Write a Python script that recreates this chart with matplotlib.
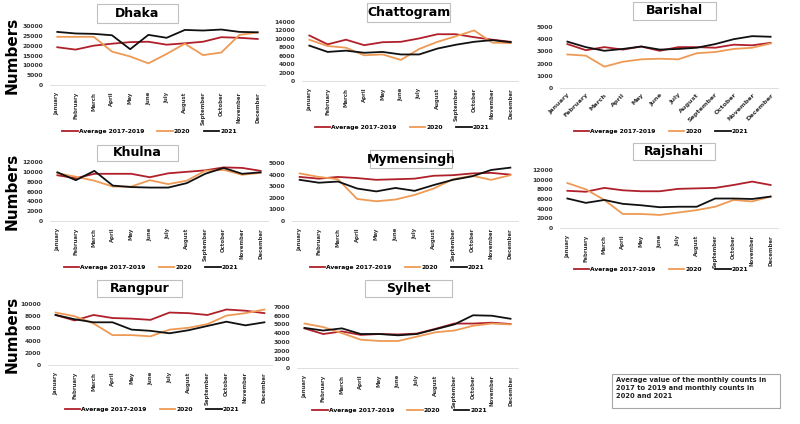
import matplotlib.pyplot as plt
from matplotlib.patches import Rectangle
from matplotlib.lines import Line2D

months = ["January", "February", "March", "April", "May", "June", "July",
          "August", "September", "October", "November", "December"]

dhaka_avg = [19200, 18000, 20000, 21000, 21800, 22000, 20500, 21200, 22000, 24300, 24000, 23400]
dhaka_2020 = [24500, 24500, 24500, 17000, 14500, 11000, 15800, 21000, 15200, 16500, 25500, 26700]
dhaka_2021 = [27000, 26200, 26000, 25300, 18200, 25500, 24000, 28000, 27700, 28200, 27000, 26800]

ctg_avg = [10800, 8700, 9800, 8500, 9200, 9300, 10100, 11100, 11100, 10400, 9800, 9300]
ctg_2020 = [9800, 8300, 7900, 6100, 6300, 5000, 7600, 9300, 10600, 12000, 9100, 9000]
ctg_2021 = [8400, 6900, 7200, 6700, 6900, 6300, 6300, 7700, 8600, 9300, 9700, 9200]

bar_avg = [3600, 3100, 3350, 3150, 3400, 3050, 3350, 3350, 3300, 3550, 3500, 3700]
bar_2020 = [2750, 2650, 1750, 2150, 2350, 2400, 2350, 2850, 2950, 3200, 3300, 3650]
bar_2021 = [3800, 3350, 3050, 3200, 3400, 3150, 3200, 3300, 3600, 4000, 4250, 4200]

khu_avg = [9300, 8700, 9600, 9600, 9600, 8900, 9700, 10000, 10300, 10900, 10800, 10200]
khu_2020 = [9700, 9000, 8200, 7000, 7000, 8300, 7500, 8200, 10200, 10400, 9400, 9800]
khu_2021 = [9900, 8300, 10200, 7200, 6900, 6800, 6800, 7700, 9600, 10800, 9600, 9900]

mym_avg = [3800, 3650, 3800, 3700, 3550, 3600, 3650, 3900, 3950, 4100, 4150, 4000]
mym_2020 = [4100, 3800, 3600, 1900, 1700, 1850, 2250, 2800, 3600, 3900, 3550, 3950]
mym_2021 = [3550, 3300, 3400, 2800, 2550, 2850, 2600, 3100, 3550, 3850, 4400, 4600]

raj_avg = [7700, 7500, 8300, 7800, 7600, 7600, 8100, 8200, 8300, 8900, 9600, 8900]
raj_2020 = [9300, 8000, 5800, 2900, 2900, 2700, 3200, 3700, 4400, 5800, 5500, 6500]
raj_2021 = [6100, 5200, 5800, 5000, 4700, 4300, 4400, 4400, 6100, 6100, 6000, 6500]

rng_avg = [8200, 7300, 8200, 7700, 7600, 7400, 8600, 8500, 8200, 9100, 8900, 8500]
rng_2020 = [8600, 8000, 6800, 4900, 4900, 4700, 5800, 6100, 6700, 8100, 8500, 9100]
rng_2021 = [8200, 7500, 7000, 7000, 5800, 5600, 5200, 5700, 6400, 7100, 6500, 7000]

syl_avg = [4550, 3900, 4200, 3800, 3900, 3850, 3950, 4500, 5100, 5100, 5200, 5050]
syl_2020 = [5100, 4700, 4000, 3250, 3100, 3100, 3600, 4100, 4300, 4850, 5100, 5000]
syl_2021 = [4600, 4300, 4550, 3900, 3900, 3750, 3900, 4450, 5000, 6050, 6000, 5650]

RED = "#B0202A"
ORANGE = "#EE9A55"
BLACK = "#111111"

W, H = 800, 424
fig = plt.figure(figsize=(8, 4.24), dpi=100)


def fx(x):
    return x / W


def fy(y):
    return 1 - y / H


# name, data, ymax, step, axes px (l, r, t, b), title box px (l, r, t, b), legend y, rotation, ylabel
panels = [
    ("Dhaka", (dhaka_avg, dhaka_2020, dhaka_2021), 30000, 5000, (50, 265, 26, 85), (97, 178, 4, 23), 131, 90, True),
    ("Chattogram", (ctg_avg, ctg_2020, ctg_2021), 14000, 2000, (302, 518, 22, 81), (367, 450, 3, 22), 127, 90, False),
    ("Barishal", (bar_avg, bar_2020, bar_2021), 5000, 1000, (560, 778, 27, 88), (633, 716, 2, 20), 131, 45, False),
    ("Khulna", (khu_avg, khu_2020, khu_2021), 12000, 2000, (50, 268, 162, 221), (97, 178, 145, 161), 267, 90, True),
    ("Mymensingh", (mym_avg, mym_2020, mym_2021), 5000, 1000, (292, 518, 163, 221), (370, 452, 150, 168), 267, 90, False),
    ("Rajshahi", (raj_avg, raj_2020, raj_2021), 12000, 2000, (560, 778, 170, 228), (633, 715, 143, 160), 269, 90, False),
    ("Rangpur", (rng_avg, rng_2020, rng_2021), 10000, 2000, (48, 272, 304, 365), (97, 182, 280, 297), 409, 90, True),
    ("Sylhet", (syl_avg, syl_2020, syl_2021), 7000, 1000, (297, 518, 307, 368), (365, 452, 280, 297), 410, 90, False),
]

labels = ["Average 2017-2019", "2020", "2021"]
colors = [RED, ORANGE, BLACK]

for name, series, ymax, step, (l, r, t, b), (tl, tr, tt, tb), ly, rot, ylab in panels:
    ax = fig.add_axes([fx(l), fy(b), fx(r - l), (b - t) / H])
    x = list(range(12))
    for s, c, lab in zip(series, colors, labels):
        ax.plot(x, s, color=c, lw=1.3, label=lab)
    ax.set_xlim(-0.4, 11.4)
    ax.set_ylim(0, ymax)
    ax.set_yticks(range(0, ymax + 1, step))
    ax.tick_params(axis="y", length=0, labelsize=4.3, pad=5)
    ax.set_xticks(x)
    if rot == 45:
        ax.set_xticklabels(months, rotation=45, ha="right", rotation_mode="anchor", fontsize=4.6)
        ax.tick_params(axis="x", length=0, pad=3, colors="#333333")
    else:
        ax.set_xticklabels(months, rotation=90, fontsize=3.9)
        ax.tick_params(axis="x", length=0, pad=5, colors="#333333")
    for lbl in ax.get_yticklabels() + ax.get_xticklabels():
        lbl.set_fontweight("bold")
        lbl.set_color("#333333")
    for sp in ["top", "right", "left"]:
        ax.spines[sp].set_visible(False)
    ax.spines["bottom"].set_color("#d9d9d9")
    ax.spines["bottom"].set_linewidth(0.6)
    if ylab:
        fig.text(fx(12), (fy(t) + fy(b)) / 2, "Numbers", rotation=90, fontsize=11,
                 fontweight="bold", ha="center", va="center")

    # title box
    fig.patches.append(Rectangle((fx(tl), fy(tb)), fx(tr - tl), (tb - tt) / H,
                                 transform=fig.transFigure, facecolor="white",
                                 edgecolor="#bfbfbf", lw=0.8))
    fig.text(fx((tl + tr) / 2), fy((tt + tb) / 2), name, fontsize=9, fontweight="bold",
             ha="center", va="center")

    handles = [Line2D([0], [0], color=c, lw=1.3) for c in colors]
    fig.legend(handles, labels, loc="center", bbox_to_anchor=(fx((l + r) / 2 - 8), fy(ly)),
               ncol=3, frameon=False, handlelength=2.6, columnspacing=2.2,
               handletextpad=0.2, prop={"weight": "bold", "size": 4.3})

fig.patches.append(Rectangle((fx(612), fy(408)), fx(168), 34 / H, transform=fig.transFigure,
                             facecolor="white", edgecolor="#a6a6a6", lw=0.8))
fig.text(fx(616), fy(377), "Average value of the monthly counts in\n2017 to 2019 and monthly counts in\n2020 and 2021",
         fontsize=4.9, fontweight="bold", ha="left", va="top", linespacing=1.45, color="#222222")

fig.savefig("out.png", dpi=100)
